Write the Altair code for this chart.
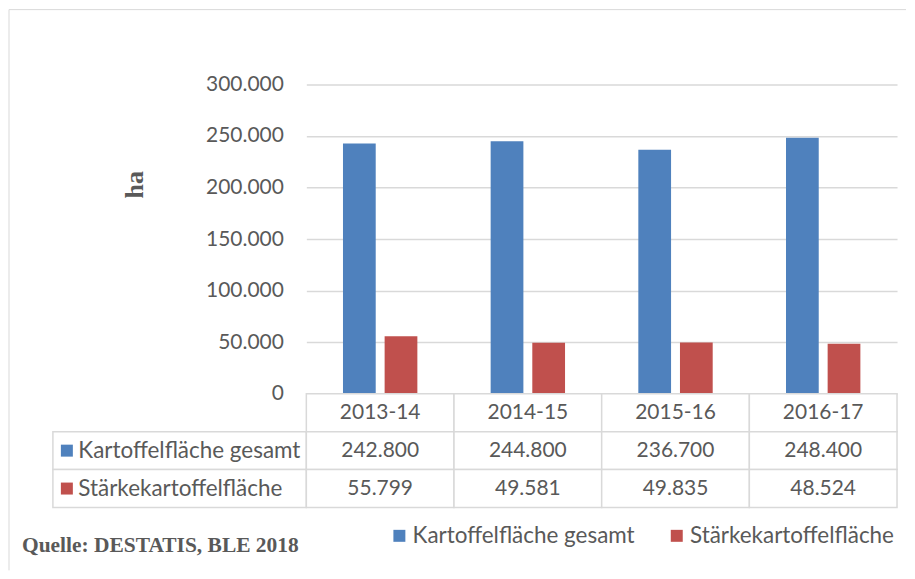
import altair as alt
import pandas as pd

CATEGORIES = ["2013-14", "2014-15", "2015-16", "2016-17"]
SERIES = ["Kartoffelfläche gesamt", "Stärkekartoffelfläche"]
GESAMT = [242800, 244800, 236700, 248400]
STAERKE = [55799, 49581, 49835, 48524]
Y_TICKS = [0, 50000, 100000, 150000, 200000, 250000, 300000]
Y_TITLE = "ha"
SOURCE = "Quelle: DESTATIS, BLE 2018"
HEADER = "Jahr"
COLORS = ["#4F81BD", "#C0504D"]

FONT = "Lato"
FS = 21
FS_LBL = 22.5
TXT = "#595959"
GRID = "#D9D9D9"


def de(v):
    return f"{v:,}".replace(",", ".")


bars = pd.DataFrame({
    "cat": CATEGORIES * 2,
    "series": [SERIES[0]] * len(CATEGORIES) + [SERIES[1]] * len(CATEGORIES),
    "value": GESAMT + STAERKE,
})

table_rows = []
for c in CATEGORIES:
    table_rows.append({"cat": c, "row": HEADER, "text": c})
for s, vals in zip(SERIES, [GESAMT, STAERKE]):
    for c, v in zip(CATEGORIES, vals):
        table_rows.append({"cat": c, "row": s, "text": de(v)})
table = pd.DataFrame(table_rows)
labels = pd.DataFrame({"row": SERIES, "series": SERIES})
one = pd.DataFrame({"t": [SOURCE]})

color_scale = alt.Scale(domain=SERIES, range=COLORS)

# ---------- bar chart ----------
bar_marks = alt.Chart(bars).mark_bar().encode(
    x=alt.X("cat:N", sort=CATEGORIES,
            scale=alt.Scale(paddingInner=0, paddingOuter=0), axis=None),
    xOffset=alt.XOffset("series:N", sort=SERIES,
                        scale=alt.Scale(paddingInner=0.214, paddingOuter=0.88)),
    y=alt.Y("value:Q",
            scale=alt.Scale(domain=[0, 300000], nice=False),
            axis=alt.Axis(values=Y_TICKS,
                          labelExpr="replace(format(datum.value, ',d'), ',', '.')",
                          title=Y_TITLE, grid=True, gridColor=GRID, gridWidth=1.5,
                          domain=False, ticks=False, labelPadding=23,
                          labelFont=FONT, labelFontSize=FS, labelColor=TXT,
                          titleFont="Liberation Serif", titleFontWeight="bold",
                          titleFontSize=26, titleColor=TXT, titleX=-172, titleY=100,
                          titleAngle=270, titleAlign="center", titleBaseline="middle")),
    color=alt.Color("series:N", scale=color_scale, legend=None),
)

frame_top = alt.Chart(one).mark_rule(color=GRID, strokeWidth=1).encode(
    x=alt.value(-298), x2=alt.value(601), y=alt.value(-75))
frame_left = alt.Chart(one).mark_rule(color=GRID, strokeWidth=1).encode(
    x=alt.value(-298), y=alt.value(-75), y2=alt.value(487))

bar_chart = alt.layer(bar_marks, frame_top, frame_left).properties(width=592, height=310)

# ---------- table ----------
x_tab = alt.X("cat:N", sort=CATEGORIES,
              scale=alt.Scale(paddingInner=0, paddingOuter=0), axis=None)
y_tab = alt.Y("row:N", sort=[HEADER] + SERIES,
              scale=alt.Scale(domain=[HEADER] + SERIES, paddingInner=0, paddingOuter=0),
              axis=alt.Axis(title=None, domain=False, ticks=False, grid=False,
                            labelExpr=f"datum.value == '{HEADER}' ? '' : datum.value",
                            labelAlign="left", labelPadding=229, labelLimit=400,
                            labelFont=FONT, labelFontSize=FS_LBL, labelColor=TXT))

cell_rect = alt.Chart(table).mark_rect(fill="white", stroke=GRID, strokeWidth=1.5).encode(
    x=x_tab, y=y_tab)
cell_text = alt.Chart(table).mark_text(font=FONT, fontSize=FS, color=TXT).encode(
    x=x_tab, y=y_tab, text="text:N")
label_rect = alt.Chart(labels).mark_rect(fill="white", stroke=GRID, strokeWidth=1.5).encode(
    x=alt.value(-254), x2=alt.value(0), y=y_tab)
label_sq = alt.Chart(labels).mark_point(shape="square", filled=True, size=144, opacity=1).encode(
    x=alt.value(-240), y=y_tab,
    color=alt.Color("series:N", scale=color_scale,
                    legend=alt.Legend(orient="none", legendX=82, legendY=131,
                                      direction="horizontal", title=None,
                                      symbolType="square", symbolSize=144,
                                      symbolOpacity=1, symbolStrokeWidth=0,
                                      labelFont=FONT, labelFontSize=FS_LBL, labelColor=TXT,
                                      labelLimit=400,
                                      columnPadding=30, labelOffset=2, padding=0)))
source_text = alt.Chart(one).mark_text(align="left", baseline="alphabetic",
                                       font="Liberation Serif", fontWeight="bold",
                                       fontSize=21.5, color=TXT).encode(
    x=alt.value(-285), y=alt.value(159), text="t:N")

table_chart = alt.layer(label_rect, cell_rect, cell_text, label_sq, source_text).properties(
    width=592, height=114)

chart = alt.vconcat(bar_chart, table_chart, spacing=0, bounds="flush").resolve_scale(
    color="independent").resolve_legend(color="independent").properties(
    padding=0, background="white").configure_view(strokeWidth=0)

chart.save("out.html", embed_options={"renderer": "svg", "actions": False})
